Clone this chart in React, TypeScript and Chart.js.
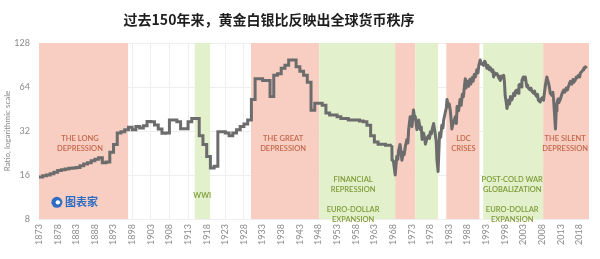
import React, { useEffect, useRef } from 'react';
import { Chart, registerables } from 'chart.js';

Chart.register(...registerables);

const TITLE = '过去150年来，黄金白银比反映出全球货币秩序';
const Y_TITLE = 'Ratio, logarithmic scale';

const tickYears = [1873, 1878, 1883, 1888, 1893, 1898, 1903, 1908, 1913, 1918, 1923, 1928, 1933, 1938, 1943, 1948, 1953, 1958, 1963, 1968, 1973, 1978, 1983, 1988, 1993, 1998, 2003, 2008, 2013, 2018];
const yTicks = [8, 16, 32, 64, 128];

// Annual (step) series 1873–1967
const annualYears = [
  1873, 1874, 1875, 1876, 1877, 1878, 1879, 1880, 1881, 1882, 1883, 1884, 1885, 1886, 1887, 1888, 1889, 1890, 1891, 1892,
  1893, 1894, 1895, 1896, 1897, 1898, 1899, 1900, 1901, 1902, 1903, 1904, 1905, 1906, 1907, 1908, 1909, 1910, 1911, 1912,
  1913, 1914, 1915, 1916, 1917, 1918, 1919, 1920, 1921, 1922, 1923, 1924, 1925, 1926, 1927, 1928, 1929, 1930, 1931, 1932,
  1933, 1934, 1935, 1936, 1937, 1938, 1939, 1940, 1941, 1942, 1943, 1944, 1945, 1946, 1947, 1948, 1949, 1950, 1951, 1952,
  1953, 1954, 1955, 1956, 1957, 1958, 1959, 1960, 1961, 1962, 1963, 1964, 1965, 1966, 1967, 1967.7,
];
const annualValues = [
  15.5, 15.8, 16, 16.3, 16.7, 17.2, 17.4, 17.6, 17.8, 17.9, 18, 18.5, 19, 19.4, 20, 20.5, 21, 19.4, 19.6, 22.9,
  25.9, 31, 31.6, 32.7, 34, 32.7, 34.3, 33.5, 34.8, 37.2, 37, 35.2, 33, 30.9, 31, 38, 38, 37, 33.2, 33.2,
  37, 39, 39, 29.7, 25.9, 21.4, 17.9, 18.4, 31.6, 31.6, 31, 29.7, 31, 32.7, 34.3, 35.8, 38, 52.6, 73, 73,
  71, 71, 55, 77, 79, 86, 90, 98, 98, 88, 82, 77, 69, 44.4, 49.5, 49.5, 48, 42.5, 41.2, 41.2,
  40, 39, 39, 38, 38, 38, 37.5, 37, 35, 29.7, 26.9, 26, 26, 25.6, 25.6, 25.6,
];

// Higher-frequency series 1967–2020
const recentYears = [
  1967.7, 1967.75, 1968.1, 1968.6, 1969.0, 1969.3, 1969.5, 1969.9, 1970.4, 1970.8, 1971.0, 1971.3, 1971.7, 1972.0, 1972.2,
  1972.6, 1972.8, 1973.1, 1973.5, 1973.7, 1974.0, 1974.4, 1974.7, 1974.9, 1975.3, 1975.6, 1975.8, 1976.2, 1976.5, 1976.7,
  1977.1, 1977.5, 1977.8, 1978.0, 1978.3, 1978.5, 1978.9, 1979.3, 1979.6, 1979.8, 1980.1, 1980.5, 1980.8, 1981.1, 1981.4,
  1981.6, 1982.0, 1982.3, 1982.5, 1982.9, 1983.1, 1983.4, 1983.8, 1984.0, 1984.3, 1984.7, 1985.0, 1985.2, 1985.6, 1986.0,
  1986.3, 1986.6, 1986.9, 1987.2, 1987.4, 1987.6, 1987.9, 1988.3, 1988.6, 1988.9, 1989.2, 1989.5, 1989.8, 1990.1, 1990.5,
  1990.8, 1991.0, 1991.4, 1991.7, 1991.9, 1992.3, 1992.6, 1992.8, 1993.2, 1993.5, 1993.8, 1994.1, 1994.5, 1994.8, 1995.0,
  1995.3, 1995.5, 1995.9, 1996.2, 1996.4, 1996.8, 1997.1, 1997.3, 1997.7, 1997.9, 1998.1, 1998.4, 1998.6, 1999.0, 1999.3,
  1999.5, 1999.8, 2000.0, 2000.4, 2000.7, 2000.9, 2001.3, 2001.6, 2001.8, 2002.2, 2002.4, 2002.6, 2003.0, 2003.2, 2003.5,
  2003.9, 2004.1, 2004.3, 2004.8, 2005.0, 2005.3, 2005.7, 2006.0, 2006.2, 2006.6, 2006.8, 2007.0, 2007.5, 2007.8, 2008.0,
  2008.4, 2008.7, 2008.9, 2009.3, 2009.5, 2009.7, 2010.0, 2010.2, 2010.7, 2010.9, 2011.1, 2011.4, 2011.6, 2011.8, 2012.0,
  2012.3, 2012.5, 2012.9, 2013.2, 2013.4, 2013.8, 2014.1, 2014.5, 2014.8, 2015.1, 2015.4, 2015.6, 2016.0, 2016.3, 2016.5,
  2016.9, 2017.2, 2017.4, 2017.8, 2018.1, 2018.3, 2018.7, 2019.0, 2019.2, 2019.6, 2020.0,
];
const recentValues = [
  25.6, 20.2, 20, 16, 21.4, 20.5, 23.5, 25.9, 20.2, 23, 22, 25, 27.9, 26.5, 32.7,
  40, 36, 34.3, 44.6, 41, 40, 32.7, 35, 38, 32.7, 34, 28, 31, 28.5, 26,
  28.5, 29.7, 28.5, 31.5, 30.5, 32.7, 36, 31, 27, 20.2, 16.9, 31, 29, 35, 33.5,
  38, 42.5, 46, 52.6, 47, 49, 43.7, 33, 35, 37, 40, 36, 47, 44, 52.6,
  48, 57, 55, 66, 73, 63, 70, 64.7, 72, 67, 74, 70, 78, 75, 84,
  80, 89, 98, 92, 93, 90, 96, 94, 86, 90, 84, 87, 81.7, 84, 75,
  80, 78, 79, 76, 74, 71, 76, 74, 77, 70, 56, 50, 45.6, 52, 49,
  55, 52, 53, 58, 56, 60, 61, 58, 66, 67, 64, 71, 75, 72, 75,
  64.6, 66, 63, 61, 63, 60, 58, 60, 57, 55, 57, 52, 50.5, 53, 54,
  52, 60, 66, 75, 71, 69, 63, 58, 56, 59, 52.6, 40, 33, 44, 49.5,
  53, 50, 52.6, 56, 58, 61, 59, 63, 61, 64.6, 68, 70, 67, 72, 69,
  71, 75, 74, 77, 75, 80, 81.7, 84, 86, 88, 86,
];

// Shaded eras
const bandStarts = [1873, 1914.8, 1929.9, 1948.2, 1968.6, 1974.0, 1982.3, 1992.2, 2008.3];
const bandEnds = [1896.9, 1918.9, 1948.2, 1968.6, 1974.0, 1980.1, 1991.2, 2008.3, 2020.6];
const bandKinds = ['pink', 'green', 'pink', 'green', 'pink', 'green', 'pink', 'green', 'pink'];

// Era labels
const eraLabelLines = [
  ['THE LONG', 'DEPRESSION'],
  ['WWI'],
  ['THE GREAT', 'DEPRESSION'],
  ['FINANCIAL', 'REPRESSION', '', 'EURO-DOLLAR', 'EXPANSION'],
  ['LDC', 'CRISES'],
  ['POST-COLD WAR', 'GLOBALIZATION', '', 'EURO-DOLLAR', 'EXPANSION'],
  ['THE SILENT', 'DEPRESSION'],
];
const eraLabelYears = [1884, 1916.8, 1938.5, 1957.3, 1986.9, 2000, 2014.2];
const eraLabelValues = [28.6, 11.6, 28.2, 15, 28.2, 15, 28.2];
const eraLabelKinds = ['pink', 'green', 'pink', 'green', 'pink', 'green', 'pink'];

const PINK = 'rgb(247, 206, 193)';
const GREEN = 'rgb(226, 241, 203)';
const PINK_TEXT = '#c4674c';
const GREEN_TEXT = '#7d9a37';
const LINE = '#6c6c6c';

const bandsPlugin = {
  id: 'bands',
  beforeDatasetsDraw(chart: any) {
    const { ctx, chartArea: a, scales } = chart;
    const xs = scales.x;
    const ys = scales.y;
    ctx.save();
    bandStarts.forEach((s, i) => {
      const x0 = xs.getPixelForValue(s);
      const x1 = xs.getPixelForValue(bandEnds[i]);
      ctx.fillStyle = bandKinds[i] === 'pink' ? PINK : GREEN;
      ctx.fillRect(x0, a.top, x1 - x0, a.bottom - a.top);
    });
    ctx.font = '600 7.5px Lato';
    ctx.textAlign = 'center';
    ctx.textBaseline = 'middle';
    eraLabelLines.forEach((lines, i) => {
      const cx = xs.getPixelForValue(eraLabelYears[i]);
      const cy = ys.getPixelForValue(eraLabelValues[i]);
      ctx.fillStyle = eraLabelKinds[i] === 'pink' ? PINK_TEXT : GREEN_TEXT;
      lines.forEach((t, j) => {
        if (t) ctx.fillText(t, cx, cy + j * 10);
      });
    });
    // small logo watermark
    const lx = xs.getPixelForValue(1877.8);
    const ly = ys.getPixelForValue(10.4);
    ctx.fillStyle = '#2f6cc4';
    ctx.beginPath();
    ctx.arc(lx, ly, 5.5, 0, Math.PI * 2);
    ctx.fill();
    ctx.fillStyle = '#ffffff';
    ctx.beginPath();
    ctx.arc(lx + 1, ly, 2.2, 0, Math.PI * 2);
    ctx.fill();
    ctx.fillStyle = '#2f6cc4';
    ctx.font = 'bold 11px "Noto Sans CJK SC"';
    ctx.textAlign = 'left';
    ctx.fillText('图表家', lx + 8, ly - 1);
    ctx.restore();
  },
  afterDraw(chart: any) {
    const { ctx } = chart;
    ctx.save();
    ctx.font = 'bold 14px "Noto Sans CJK SC"';
    ctx.fillStyle = '#1e1e1e';
    ctx.textAlign = 'center';
    ctx.textBaseline = 'middle';
    ctx.fillText(TITLE, 269, 20);
    ctx.restore();
  },
};

export default function App() {
  const ref = useRef<HTMLCanvasElement | null>(null);
  useEffect(() => {
    document.body.style.margin = '0';
    const canvas = ref.current;
    if (!canvas) return;
    const chart = new Chart(canvas, {
      type: 'line',
      data: {
        datasets: [
          {
            data: annualYears.map((x, i) => ({ x, y: annualValues[i] })),
            borderColor: LINE,
            borderWidth: 3,
            pointRadius: 0,
            stepped: 'before',
            fill: false,
          },
          {
            data: recentYears.map((x, i) => ({ x, y: recentValues[i] })),
            borderColor: LINE,
            borderWidth: 3,
            pointRadius: 0,
            tension: 0,
            fill: false,
            borderJoinStyle: 'round',
          },
        ],
      },
      options: {
        animation: false,
        responsive: false,
        devicePixelRatio: 1,
        layout: { padding: { top: 43, right: 11, left: 0, bottom: 0 } },
        plugins: {
          legend: { display: false },
          tooltip: { enabled: false },
          title: { display: false },
        },
        scales: {
          x: {
            type: 'linear',
            min: 1873,
            max: 2020.6,
            afterBuildTicks: (s: any) => {
              s.ticks = tickYears.map((v) => ({ value: v }));
            },
            afterFit: (s: any) => {
              s.height = 40;
            },
            ticks: {
              autoSkip: false,
              minRotation: 90,
              maxRotation: 90,
              padding: 5,
              color: '#8a8a8a',
              font: { size: 9, family: 'Lato' },
              callback: (v: any) => String(v),
            },
            grid: { color: '#eeeeee', drawTicks: false },
            border: { display: false },
          },
          y: {
            type: 'logarithmic',
            min: 8,
            max: 128,
            afterBuildTicks: (s: any) => {
              s.ticks = yTicks.map((v) => ({ value: v }));
            },
            afterFit: (s: any) => {
              s.width = 39;
            },
            ticks: {
              padding: 9,
              color: '#8a8a8a',
              font: { size: 9, family: 'Lato' },
              callback: (v: any) => String(v),
            },
            title: {
              display: true,
              text: Y_TITLE,
              color: '#8a8a8a',
              font: { size: 8, family: 'Lato' },
              padding: { top: 3, bottom: 0 },
            },
            grid: { color: '#eeeeee', drawTicks: false },
            border: { display: false },
          },
        },
      },
      plugins: [bandsPlugin],
    } as any);
    return () => chart.destroy();
  }, []);
  return (
    <div style={{ position: 'absolute', left: 0, top: 0, width: 600, height: 259, background: '#fff' }}>
      <canvas ref={ref} width={600} height={259} />
    </div>
  );
}
